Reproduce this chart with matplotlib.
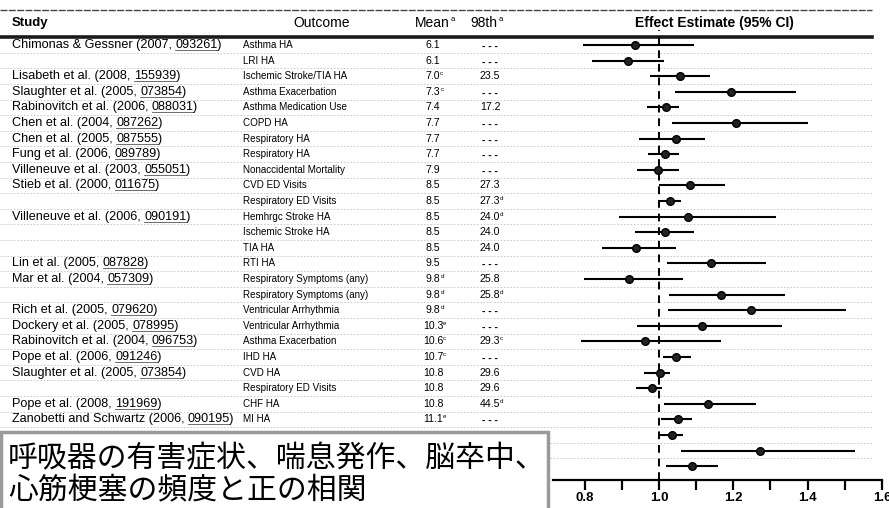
import matplotlib
matplotlib.use("Agg")
import matplotlib.pyplot as plt
from matplotlib.patches import Rectangle

# ---- table columns (visible rows) ----
studies = ["Chimonas & Gessner (2007, ", "", "Lisabeth et al. (2008, ", "Slaughter et al. (2005, ",
           "Rabinovitch et al. (2006, ", "Chen et al. (2004, ", "Chen et al. (2005, ",
           "Fung et al. (2006, ", "Villeneuve et al. (2003, ", "Stieb et al. (2000, ", "",
           "Villeneuve et al. (2006, ", "", "", "Lin et al. (2005, ", "Mar et al. (2004, ", "",
           "Rich et al. (2005, ", "Dockery et al. (2005, ", "Rabinovitch et al. (2004, ",
           "Pope et al. (2006, ", "Slaughter et al. (2005, ", "", "Pope et al. (2008, ",
           "Zanobetti and Schwartz (2006, "]
hero_ids = ["093261", "", "155939", "073854", "088031", "087262", "087555", "089789", "055051",
            "011675", "", "090191", "", "", "087828", "057309", "", "079620", "078995", "096753",
            "091246", "073854", "", "191969", "090195"]
outcomes = ["Asthma HA", "LRI HA", "Ischemic Stroke/TIA HA", "Asthma Exacerbation",
            "Asthma Medication Use", "COPD HA", "Respiratory HA", "Respiratory HA",
            "Nonaccidental Mortality", "CVD ED Visits", "Respiratory ED Visits",
            "Hemhrgc Stroke HA", "Ischemic Stroke HA", "TIA HA", "RTI HA",
            "Respiratory Symptoms (any)", "Respiratory Symptoms (any)", "Ventricular Arrhythmia",
            "Ventricular Arrhythmia", "Asthma Exacerbation", "IHD HA", "CVD HA",
            "Respiratory ED Visits", "CHF HA", "MI HA"]
means = ["6.1", "6.1", "7.0", "7.3", "7.4", "7.7", "7.7", "7.7", "7.9", "8.5", "8.5", "8.5", "8.5",
         "8.5", "9.5", "9.8", "9.8", "9.8", "10.3", "10.6", "10.7", "10.8", "10.8", "10.8", "11.1"]
mean_sup = ["", "", "c", "c", "", "", "", "", "", "", "", "", "", "", "", "d", "d", "d", "e", "c",
            "c", "", "", "", "e"]
p98 = ["---", "---", "23.5", "---", "17.2", "---", "---", "---", "---", "27.3", "27.3", "24.0",
       "24.0", "24.0", "---", "25.8", "25.8", "---", "---", "29.3", "---", "29.6", "29.6", "44.5", "---"]
p98_sup = ["", "", "", "", "", "", "", "", "", "", "d", "d", "", "", "", "", "d", "", "", "c", "",
           "", "", "d", ""]

# ---- effect estimates (95% CI), 28 rows; last rows sit under the caption box ----
est = [0.935, 0.917, 1.056, 1.195, 1.018, 1.206, 1.047, 1.015, 0.997, 1.084, 1.031, 1.078, 1.015,
       0.937, 1.141, 0.919, 1.168, 1.247, 1.117, 0.962, 1.047, 1.002, 0.982, 1.132, 1.051, 1.034,
       1.273, 1.090]
lo = [0.795, 0.821, 0.975, 1.042, 0.968, 1.036, 0.946, 0.970, 0.941, 1.000, 1.000, 0.892, 0.935,
      0.847, 1.022, 0.798, 1.027, 1.024, 0.941, 0.791, 1.011, 0.959, 0.939, 1.013, 1.006, 0.997,
      1.060, 1.020]
hi = [1.093, 1.013, 1.138, 1.368, 1.054, 1.401, 1.123, 1.054, 1.054, 1.177, 1.060, 1.314, 1.093,
      1.045, 1.287, 1.066, 1.338, 1.504, 1.332, 1.168, 1.087, 1.031, 1.009, 1.262, 1.090, 1.066,
      1.527, 1.159]

major_ticks = [0.8, 1.0, 1.2, 1.4, 1.6]
minor_ticks = [0.9, 1.1, 1.3, 1.5]

caption = ["呼吸器の有害症状、喘息発作、脳卒中、", "心筋梗塞の頻度と正の相関"]

# ---- layout (pixels) ----
W, H = 889, 508
ROW0, STEP = 45, 15.6
plt.rcParams['font.family'] = ['Liberation Sans', 'DejaVu Sans']

fig = plt.figure(figsize=(W / 100, H / 100), dpi=100)
base = fig.add_axes([0, 0, 1, 1])
base.set_xlim(0, W)
base.set_ylim(H, 0)
base.axis('off')


def row_y(i):
    return ROW0 + STEP * i


# header rules and row separators
base.plot([0, 872], [10, 10], color='#444444', lw=1.0, ls=(0, (5, 1)))
base.plot([0, 872], [37, 37], color='#1a1a1a', lw=2.6)
for i in range(len(est) - 1):
    y = row_y(i + 0.5)
    base.plot([0, 872], [y, y], color='#c4c4c4', lw=0.6, ls=(0, (2, 2)))

# headers
base.text(12, 23, "Study", fontsize=9.5, fontweight='bold', va='center')
base.text(322, 23, "Outcome", fontsize=10, ha='center', va='center')
hm = base.text(432, 23, "Mean", fontsize=10, ha='center', va='center')
base.annotate("a", xy=(1.05, 1.0), xycoords=hm, fontsize=5.5, va='top')
h98 = base.text(484, 23, "98th", fontsize=10, ha='center', va='center')
base.annotate("a", xy=(1.05, 1.0), xycoords=h98, fontsize=5.5, va='top')
base.text(714, 23, "Effect Estimate (95% CI)", fontsize=10, fontweight='bold',
          ha='center', va='center')

# table rows
fig.canvas.draw()
rend = fig.canvas.get_renderer()
for i in range(len(outcomes)):
    y = row_y(i)
    if studies[i]:
        t1 = base.text(12, y, studies[i], fontsize=9.1, va='center')
        t2 = base.text(12, y, studies[i] + hero_ids[i], fontsize=9.1, va='center', alpha=0)
        w1 = t1.get_window_extent(rend).width
        w2 = t2.get_window_extent(rend).width
        base.text(12 + w1, y, hero_ids[i] + ")", fontsize=9.1, va='center')
        base.plot([12 + w1, 12 + w2], [y + 5, y + 5], color='#555555', lw=0.6)
    base.text(243, y, outcomes[i], fontsize=7.1, va='center')
    tm = base.text(433, y, means[i], fontsize=7.6, ha='center', va='center')
    if mean_sup[i]:
        base.annotate(mean_sup[i], xy=(1.0, 1.0), xycoords=tm, fontsize=4.5, va='top')
    if p98[i] == '---':
        base.text(490, y + 1, "- - -", fontsize=7.6, ha='center', va='center', fontweight='bold')
    else:
        tp = base.text(490, y, p98[i], fontsize=7.6, ha='center', va='center')
        if p98_sup[i]:
            base.annotate(p98_sup[i], xy=(1.0, 1.0), xycoords=tp, fontsize=4.5, va='top')

# ---- forest plot ----
fx0, fx1, fy0, fy1 = 553, 882, 30, 480
fax = fig.add_axes([fx0 / W, 1 - fy1 / H, (fx1 - fx0) / W, (fy1 - fy0) / H])
fax.patch.set_alpha(0)
fax.set_xlim(0.715, 1.6)
fax.set_ylim((fy1 - ROW0) / STEP, (fy0 - ROW0) / STEP)
rows = list(range(len(est)))
fax.hlines(rows, lo, hi, color='black', lw=1.5)
fax.plot(est, rows, 'o', color='black', ms=5.5, mfc='#222222')
fax.axvline(1.0, color='black', lw=1.4, ls=(0, (4, 3)))
for s in ['top', 'right', 'left']:
    fax.spines[s].set_visible(False)
fax.spines['bottom'].set_linewidth(1.6)
fax.set_yticks([])
fax.set_xticks(major_ticks)
fax.set_xticklabels([f"{v:.1f}" for v in major_ticks])
fax.set_xticks(minor_ticks, minor=True)
fax.tick_params(axis='x', which='both', direction='out', length=7, width=1.6, pad=1.5,
                labelsize=9.5)
for lab in fax.get_xticklabels():
    lab.set_fontweight('bold')

# ---- caption box ----
base.add_patch(Rectangle((1, 432), 547, 80, facecolor='white', edgecolor='#9a9a9a',
                         lw=2.5, zorder=10))
for k, line in enumerate(caption):
    base.text(8, 459 + 32 * k, line, fontsize=21.5, va='center', zorder=11,
              family=['Noto Sans CJK JP', 'DejaVu Sans'])

fig.savefig('out.png', dpi=100)
